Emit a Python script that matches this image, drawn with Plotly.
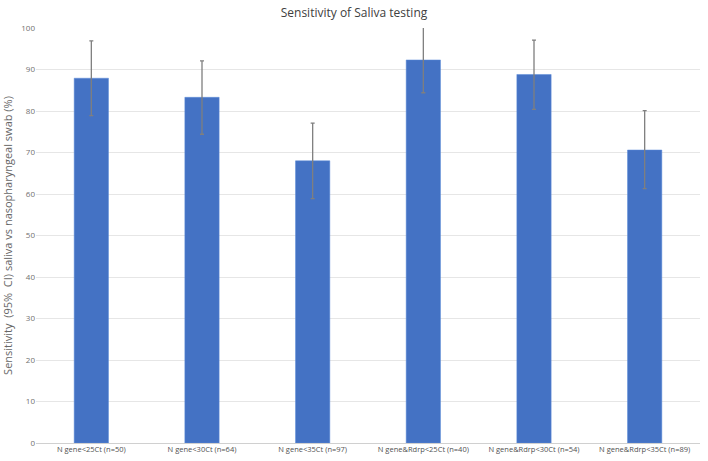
import plotly.graph_objects as go

categories = ['N gene<25Ct (n=50)', 'N gene<30Ct (n=64)', 'N gene<35Ct (n=97)',
              'N gene&Rdrp<25Ct (n=40)', 'N gene&Rdrp<30Ct (n=54)', 'N gene&Rdrp<35Ct (n=89)']
sensitivity = [87.9, 83.3, 68.0, 92.3, 88.8, 70.6]
ci_upper = [96.9, 92.1, 77.1, 100.5, 97.1, 80.1]
ci_lower = [78.9, 74.4, 58.9, 84.4, 80.4, 61.3]

err_plus = [u - v for u, v in zip(ci_upper, sensitivity)]
err_minus = [v - l for v, l in zip(sensitivity, ci_lower)]

fig = go.Figure(go.Bar(
    x=categories, y=sensitivity,
    marker=dict(color='#4472C4', line=dict(color='#5B8AD8', width=0.5)),
    width=0.31,
    error_y=dict(type='data', symmetric=False, array=err_plus, arrayminus=err_minus,
                 color='#7F7F7F', thickness=1.3, width=2),
))

fig.update_layout(
    width=708, height=461,
    margin=dict(l=36, r=8, t=28, b=18),
    plot_bgcolor='white', paper_bgcolor='white',
    font=dict(family='Open Sans, sans-serif', color='#595959'),
    title=dict(text='Sensitivity of Saliva testing', x=0.5, xanchor='center',
               y=0.982, yanchor='top', font=dict(size=12, color='#404040')),
    showlegend=False,
)
fig.update_yaxes(range=[0, 100], dtick=10, gridcolor='#E6E6E6', gridwidth=1,
                 zeroline=True, zerolinecolor='#D0D0D0', zerolinewidth=1,
                 tickfont=dict(size=8, color='#707070'), ticks='', showline=False,
                 automargin=False,
                 title=dict(text='Sensitivity  (95%  CI) saliva vs nasopharyngeal swab (%)',
                            font=dict(size=11, color='#666666'), standoff=14))
fig.update_xaxes(tickfont=dict(size=7.5, color='#505050'),
                 ticks='', showline=False, tickangle=0, automargin=False)

# page has a default 8px body margin; remove it so the figure sits at 0,0
fig.write_html("out.html", config={'displayModeBar': False},
               post_script="document.body.style.margin='0';")
